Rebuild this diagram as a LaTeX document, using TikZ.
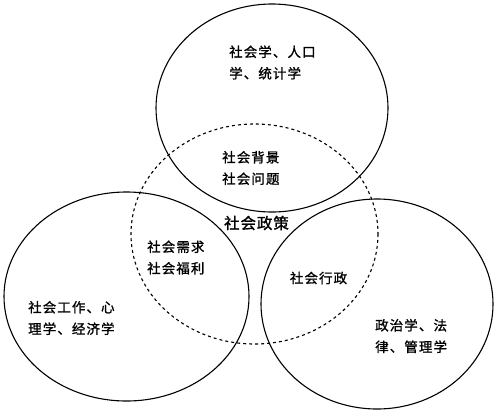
\documentclass[tikz,border=0pt]{standalone}
\usepackage{fontspec}
\newfontfamily\cjk[LetterSpace=8,FakeBold=1.2]{Noto Sans CJK SC}
\newfontfamily\cjkbig[LetterSpace=6,FakeBold=1.4]{Noto Sans CJK SC}
\begin{document}
\begin{tikzpicture}[x=1pt,y=-1pt,
  ring/.style={draw=black,line width=1.1pt},
  dashring/.style={draw=black,line width=1.1pt,dash pattern=on 3pt off 3pt},
  lbl/.style={font=\cjk\fontsize{13.5}{21.5}\selectfont,align=left,inner sep=0pt,anchor=west},
  biglbl/.style={font=\cjkbig\fontsize{15.5}{18}\selectfont,inner sep=0pt}]
\useasboundingbox (0,0) rectangle (500,416);
\draw[ring] (272,108) ellipse [x radius=116,y radius=104];
\draw[ring] (126.5,296.5) ellipse [x radius=122.5,y radius=104.5];
\draw[ring] (377,304) ellipse [x radius=116,y radius=105];
\draw[dashring] (254.5,234) ellipse [x radius=123.5,y radius=110];
\node[lbl] (top) at (229,62.5) {社会学、人口\\学、统计学};
\node[lbl] (bg) at (222,168) {社会背景\\社会问题};
\node[biglbl] (pol) at (256.5,223) {社会政策};
\node[lbl] (need) at (147,257.5) {社会需求\\社会福利};
\node[lbl,anchor=center] (adm) at (318.5,278) {社会行政};
\node[lbl] (work) at (28,318) {社会工作、心\\理学、经济学};
\node[lbl] (law) at (375,336) {政治学、法\\律、管理学};
\end{tikzpicture}
\end{document}
